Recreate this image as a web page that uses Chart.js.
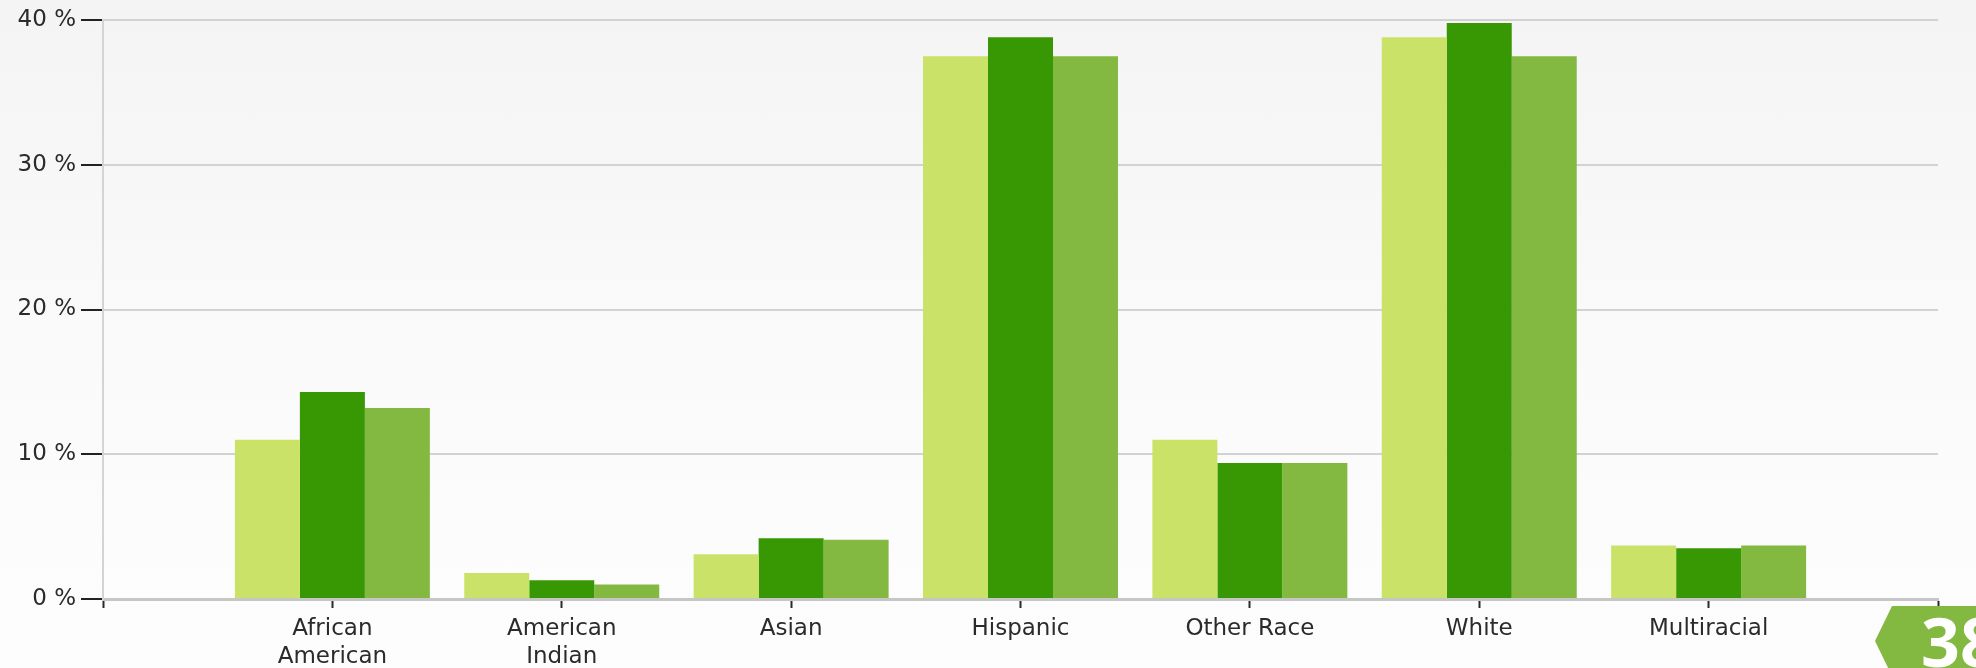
<!DOCTYPE html>
<html>
<head>
<meta charset="utf-8">
<title>Race / Ethnicity</title>
<script src="https://cdn.jsdelivr.net/npm/chart.js@4/dist/chart.umd.min.js"></script>
<style>
    html, body {
        margin: 0;
        padding: 0;
        width: 1976px;
        height: 668px;
        overflow: hidden;
        background: linear-gradient(to bottom, #f4f4f4 0%, #fafafa 50%, #fdfdfd 100%);
    }
    #wrap {
        position: relative;
        width: 1976px;
        height: 668px;
    }
    #badge {
        position: absolute;
        left: 1875px;
        top: 606px;
        width: 110px;
        height: 70px;
        background: #84b941;
        clip-path: polygon(0 50%, 17px 0, 100% 0, 100% 100%, 17px 100%);
        color: #fff;
        font-family: "Open Sans", sans-serif;
        font-weight: 700;
        font-size: 68px;
        line-height: 70px;
        padding-left: 46px;
        box-sizing: border-box;
    }
</style>
</head>
<body>
<div id="wrap">
    <canvas id="raceChart"></canvas>
    <div id="badge">38</div>
</div>
<script>
// Categories and series (percent of population)
const categories = [
    ['African', 'American'],
    ['American', 'Indian'],
    'Asian',
    'Hispanic',
    'Other Race',
    'White',
    'Multiracial'
];
const localValues  = [11.0, 1.8, 3.1, 37.5, 11.0, 38.8, 3.7];
const countyValues = [14.3, 1.3, 4.2, 38.8, 9.4, 39.8, 3.5];
const stateValues  = [13.2, 1.0, 4.1, 37.5, 9.4, 37.5, 3.7];
const yTicks = [0, 10, 20, 30, 40];

const colors = ['#cae268', '#379804', '#84b941'];

// empty slot on both ends, the axis runs from 0 to 8
const labels = [''].concat(categories, ['']);
function padSeries(values) {
    return [null].concat(values, [null]);
}

const axisFont = { family: 'DejaVu Sans', size: 23, lineHeight: 1.22 };

const ctx = document.getElementById('raceChart');
const raceChart = new Chart(ctx, {
    type: 'bar',
    data: {
        labels: labels,
        datasets: [
            { label: 'Local', data: padSeries(localValues), backgroundColor: colors[0] },
            { label: 'County', data: padSeries(countyValues), backgroundColor: colors[1] },
            { label: 'State', data: padSeries(stateValues), backgroundColor: colors[2] }
        ]
    },
    options: {
        responsive: true,
        maintainAspectRatio: false,
        animation: false,
        datasets: {
            bar: {
                barPercentage: 1.0,
                categoryPercentage: 0.85
            }
        },
        layout: {
            padding: { top: 20, right: 38, left: 0, bottom: 0 }
        },
        plugins: {
            legend: { display: false },
            tooltip: { enabled: false }
        },
        scales: {
            x: {
                offset: false,
                grid: {
                    offset: false,
                    drawOnChartArea: false,
                    drawTicks: true,
                    tickLength: 9,
                    tickColor: '#2a2a2a',
                    tickWidth: 2
                },
                border: { display: true, color: '#c6c6c6', width: 3 },
                ticks: {
                    autoSkip: false,
                    maxRotation: 0,
                    minRotation: 0,
                    padding: 7,
                    color: '#2b2b2b',
                    font: axisFont
                },
                afterFit: function(scale) {
                    scale.height = 69;
                }
            },
            y: {
                min: 0,
                max: yTicks[yTicks.length - 1],
                afterBuildTicks: function(scale) {
                    scale.ticks = yTicks.map(v => ({ value: v }));
                },
                grid: {
                    color: '#d2d2d2',
                    lineWidth: 2,
                    drawTicks: true,
                    tickLength: 22,
                    tickColor: '#222',
                    tickWidth: 2
                },
                border: { display: true, color: '#d4d4d4', width: 2 },
                ticks: {
                    padding: 5,
                    color: '#2b2b2b',
                    font: axisFont,
                    callback: function(value) {
                        return value + ' %';
                    }
                },
                afterFit: function(scale) {
                    scale.width = 103;
                }
            }
        }
    }
});
</script>
</body>
</html>
